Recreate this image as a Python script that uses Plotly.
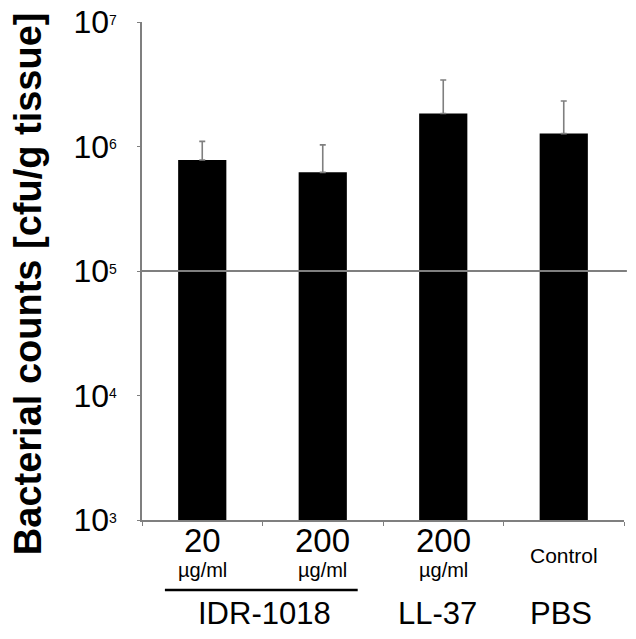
import plotly.graph_objects as go

categories = ["IDR20", "IDR200", "LL37", "PBS"]
dose_labels = ["20", "200", "200", ""]
unit_labels = ["µg/ml", "µg/ml", "µg/ml", "Control"]
group_labels = ["IDR-1018", "LL-37", "PBS"]
group_positions = [0.52, 1.95, 2.98]
means = [7.8e5, 6.2e5, 1.84e6, 1.27e6]
upper = [1.10e6, 1.03e6, 3.42e6, 2.32e6]
threshold = 1e5
y_tick_vals = [1e3, 1e4, 1e5, 1e6, 1e7]
y_tick_exps = [3, 4, 5, 6, 7]

err_plus = [u - m for u, m in zip(upper, means)]
FONT = "Liberation Sans, Arial, sans-serif"

fig = go.Figure()
fig.add_trace(go.Bar(
    x=categories, y=means, width=0.4,
    marker=dict(color="black", line=dict(width=0)),
    error_y=dict(type="data", array=err_plus, arrayminus=[0]*4, symmetric=False,
                 color="#7f7f7f", thickness=1.6, width=3),
    showlegend=False,
))

ticktext = [f"10<span style='font-size:20px'><sup>{e}</sup></span>" for e in y_tick_exps]

fig.update_layout(
    width=628, height=631,
    margin=dict(l=134, r=12, t=14, b=119),
    paper_bgcolor="white", plot_bgcolor="white",
    font=dict(family=FONT, color="black"),
    bargap=0.6,
    xaxis=dict(
        type="category", showgrid=False, showline=True, linecolor="#7f7f7f", linewidth=1.5,
        ticks="outside", tickson="boundaries", ticklen=4, tickcolor="#7f7f7f",
        showticklabels=False, range=[-0.5, 3.5], automargin=False,
    ),
    yaxis=dict(
        type="log", range=[3, 7], showgrid=False, showline=True, linecolor="#7f7f7f",
        linewidth=1.5, ticks="outside", ticklen=3, tickcolor="#7f7f7f",
        tickvals=y_tick_vals, ticktext=ticktext, tickfont=dict(size=32, family=FONT),
        ticklabelstandoff=14, zeroline=False, automargin=False,
        ticklabeloverflow="allow",
    ),
)

# threshold line
fig.add_shape(type="line", xref="paper", yref="y", x0=0, x1=1.006,
              y0=threshold, y1=threshold,
              line=dict(color="#7f7f7f", width=2), layer="above")

# underline for IDR-1018 group
fig.add_shape(type="line", xref="x", yref="paper", x0=-0.31, x1=1.29, y0=-0.1406, y1=-0.1406,
              line=dict(color="black", width=2.5))

for i, c in enumerate(categories):
    if dose_labels[i]:
        fig.add_annotation(x=c, xref="x", y=-0.0402, yref="paper", text=dose_labels[i],
                           showarrow=False, font=dict(size=33, family=FONT), yanchor="middle")
        fig.add_annotation(x=c, xref="x", y=-0.1004, yref="paper", text=unit_labels[i],
                           showarrow=False, font=dict(size=20, family=FONT), yanchor="middle")
    else:
        fig.add_annotation(x=c, xref="x", y=-0.0713, yref="paper", text=unit_labels[i],
                           showarrow=False, font=dict(size=21, family=FONT), yanchor="middle")

for g, p in zip(group_labels, group_positions):
    fig.add_annotation(x=p, xref="x", y=-0.1870, yref="paper", text=g, showarrow=False,
                       font=dict(size=31, family=FONT), yanchor="middle")

fig.add_annotation(x=-0.236, xref="paper", y=0.474, yref="paper",
                   text="<b>Bacterial counts [cfu/g tissue]</b>", textangle=-90,
                   showarrow=False, font=dict(size=38, family=FONT),
                   xanchor="center", yanchor="middle", borderpad=0)

fig.write_html("out.html")
